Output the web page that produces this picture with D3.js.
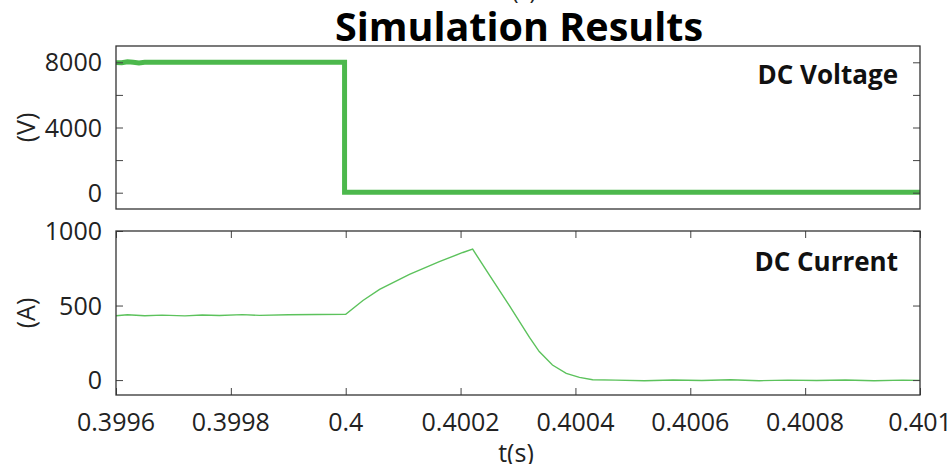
<!DOCTYPE html>
<html>
<head>
<meta charset="utf-8">
<script src="https://cdnjs.cloudflare.com/ajax/libs/d3/7.8.5/d3.min.js"></script>
<style>
  body { margin: 0; background: #fff; }
  text { font-family: "Open Sans", sans-serif; fill: #222; }
</style>
</head>
<body>
<div class="chart"></div>
<script>
var width = 951,
    height = 464;

// DC voltage (V) vs time (s)
var voltageT = [0.3996, 0.39961, 0.39962, 0.39963, 0.39964, 0.39965, 0.39970, 0.39980, 0.39990, 0.399998, 0.399998, 0.40010, 0.40030, 0.40050, 0.40070, 0.40090, 0.40100];
var voltageV = [7980, 7970, 8030, 8000, 7960, 8000, 8000, 8000, 8000, 8000, 30, 30, 30, 30, 30, 30, 30];

// DC current (A) vs time (s)
var currentT = [0.3996, 0.39962, 0.39965, 0.39968, 0.39972, 0.39975, 0.39978, 0.39982, 0.39985, 0.39990, 0.39995, 0.40000,
  0.400030, 0.400059, 0.400111, 0.400163, 0.400204, 0.400221, 0.400250, 0.400285, 0.400320, 0.400337, 0.400360, 0.400384, 0.400407, 0.400430,
  0.40047, 0.40052, 0.40057, 0.40062, 0.40067, 0.40072, 0.40077, 0.40082, 0.40087, 0.40092, 0.40097, 0.40100];
var currentA = [432, 438, 432, 436, 431, 437, 433, 439, 434, 438, 440, 442,
  534, 608, 709, 795, 856, 878, 706, 500, 287, 191, 101, 45, 18, 2,
  0, -4, 1, -3, 2, -4, 0, -3, 1, -4, 0, -2];

var xTicks = [0.3996, 0.3998, 0.4, 0.4002, 0.4004, 0.4006, 0.4008, 0.401];
var xTickLabels = ["0.3996", "0.3998", "0.4", "0.4002", "0.4004", "0.4006", "0.4008", "0.401"];
var vTicks = [0, 2000, 4000, 6000, 8000];
var vTickLabels = [0, 4000, 8000];
var aTicks = [0, 500, 1000];

var plotLeft = 116, plotRight = 920;

var svg = d3.select(".chart").append("svg")
    .attr("width", width)
    .attr("height", height);

var x = d3.scaleLinear().domain([0.3996, 0.401]).range([plotLeft, plotRight]);
var yV = d3.scaleLinear().domain([-1000, 9000]).range([209, 46]);
var yA = d3.scaleLinear().domain([-100, 1000]).range([395, 231]);

function noDomain(a) {
  a.select(".domain").remove();
  a.selectAll("line").attr("stroke", "#444");
}

function panel(y, ticks, labels, ts, vals, strokeW, color, name, nameY, unit, showX) {
  var top = y.range()[1], bottom = y.range()[0];
  var g = svg.append("g");

  // data line
  g.append("path")
      .datum(d3.range(ts.length))
      .attr("fill", "none")
      .attr("stroke", color)
      .attr("stroke-width", strokeW)
      .attr("d", d3.line()
        .x(function(i) { return x(ts[i]); })
        .y(function(i) { return y(vals[i]); }));

  // inward ticks, left and right
  var tl = 7;
  g.append("g")
      .attr("transform", "translate(" + plotLeft + ",0)")
      .call(d3.axisRight(y).tickValues(ticks).tickSize(tl).tickFormat(""))
      .call(noDomain);
  g.append("g")
      .attr("transform", "translate(" + plotRight + ",0)")
      .call(d3.axisLeft(y).tickValues(ticks).tickSize(tl).tickFormat(""))
      .call(noDomain);

  // y labels
  g.selectAll(".ylab")
    .data(labels)
    .enter().append("text")
      .attr("x", plotLeft - 14)
      .attr("y", function(d) { return y(d); })
      .attr("dy", "0.36em")
      .attr("text-anchor", "end")
      .style("font-size", "25px")
      .text(function(d) { return d; });

  if (showX) {
    g.append("g")
        .attr("transform", "translate(0," + bottom + ")")
        .call(d3.axisTop(x).tickValues(xTicks).tickSize(tl).tickFormat(""))
        .call(noDomain);
    g.append("g")
        .attr("transform", "translate(0," + top + ")")
        .call(d3.axisBottom(x).tickValues(xTicks).tickSize(tl).tickFormat(""))
        .call(noDomain);
    g.selectAll(".xlab")
      .data(xTicks)
      .enter().append("text")
        .attr("x", function(d) { return x(d); })
        .attr("y", bottom + 36)
        .attr("text-anchor", "middle")
        .style("font-size", "25px")
        .text(function(d, i) { return xTickLabels[i]; });
  }

  // frame
  g.append("rect")
      .attr("x", plotLeft)
      .attr("y", top)
      .attr("width", plotRight - plotLeft)
      .attr("height", bottom - top)
      .attr("fill", "none")
      .attr("stroke", "#333")
      .attr("stroke-width", 1.3);

  g.append("text")
      .attr("x", 898)
      .attr("y", nameY)
      .attr("text-anchor", "end")
      .style("font-weight", "bold")
      .style("font-size", "26px")
      .style("fill", "#111")
      .text(name);

  g.append("text")
      .attr("transform", "translate(35," + ((top + bottom) / 2) + ") rotate(-90)")
      .attr("text-anchor", "middle")
      .style("font-size", "25px")
      .text(unit);
}

panel(yV, vTicks, vTickLabels, voltageT, voltageV, 5, "#4cb84c", "DC Voltage", 84, "(V)", false);
panel(yA, aTicks, aTicks, currentT, currentA, 1.4, "#5cc25c", "DC Current", 271, "(A)", true);

svg.append("text")
    .attr("x", 519)
    .attr("y", 41)
    .attr("text-anchor", "middle")
    .style("font-weight", "bold")
    .style("font-size", "39.5px")
    .style("fill", "#000")
    .text("Simulation Results");

// cut-off axis label from the figure above
svg.append("text")
    .attr("x", 520)
    .attr("y", -1)
    .attr("text-anchor", "middle")
    .style("font-size", "23px")
    .text("t(s)");

svg.append("text")
    .attr("x", 516)
    .attr("y", 462)
    .attr("text-anchor", "middle")
    .style("font-size", "25px")
    .text("t(s)");
</script>
</body>
</html>
